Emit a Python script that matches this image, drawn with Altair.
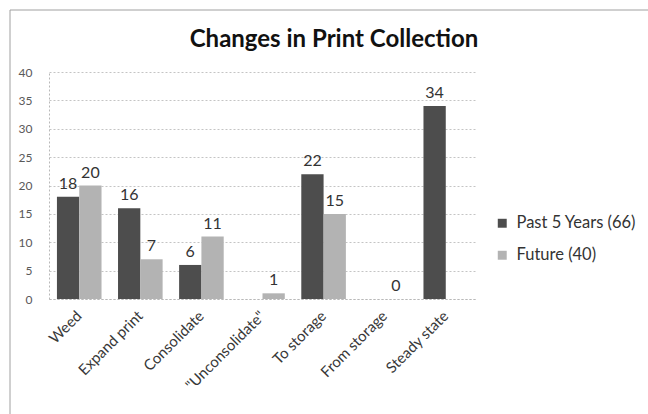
import altair as alt
import pandas as pd

categories = ["Weed", "Expand print", "Consolidate", "\"Unconsolidate\"",
              "To storage", "From storage", "Steady state"]
series_names = ["Past 5 Years (66)", "Future (40)"]
past = [18, 16, 6, None, 22, None, 34]
future = [20, 7, 11, 1, 15, 0, None]
y_ticks = [0, 5, 10, 15, 20, 25, 30, 35, 40]
colors = ["#4d4d4d", "#b3b3b3"]
title_text = "Changes in Print Collection"

rows = []
for c, p, f in zip(categories, past, future):
    if p is not None:
        rows.append({"cat": c, "series": series_names[0], "value": p})
    if f is not None:
        rows.append({"cat": c, "series": series_names[1], "value": f})
df = pd.DataFrame(rows)

FONT = "Lato"

x = alt.X("cat:N", sort=categories, title=None,
          scale=alt.Scale(paddingInner=0.27, paddingOuter=0.13),
          axis=alt.Axis(labelAngle=-45, labelAlign="right", labelBaseline="middle",
                        labelFontSize=15, labelColor="#383838", labelPadding=14,
                        ticks=False, domainColor="#b8b8b8", domainDash=[2, 2],
                        labelFont=FONT, labelOverlap=False))
y = alt.Y("value:Q", title=None,
          scale=alt.Scale(domain=[0, 40], nice=False),
          axis=alt.Axis(values=y_ticks, labelFontSize=12, labelColor="#595959",
                        labelPadding=17, ticks=False, gridColor="#c4c4c4",
                        gridDash=[2, 2], domainColor="#b8b8b8", domainDash=[2, 2],
                        labelFont=FONT, labelOverlap=False))
xoff = alt.XOffset("series:N", sort=series_names)
color = alt.Color("series:N", sort=series_names,
                  scale=alt.Scale(domain=series_names, range=colors),
                  legend=alt.Legend(title=None, orient="none", legendX=445, legendY=143,
                                    symbolType="square", symbolSize=80,
                                    symbolStrokeWidth=0, labelFontSize=16.5,
                                    labelColor="#333333", rowPadding=15,
                                    labelFont=FONT, labelOffset=6))

bars = alt.Chart(df).mark_bar().encode(x=x, y=y, xOffset=xoff, color=color)
labels = alt.Chart(df).mark_text(baseline="bottom", dy=-5, fontSize=16,
                                 color="#333333", font=FONT).encode(
    x=x, y=y, xOffset=xoff, text="value:Q")

frame = alt.Chart(pd.DataFrame({"a": [0]})).mark_rect(
    fill=None, stroke="#a0a0a0", strokeWidth=1).encode(
    x=alt.value(-39), x2=alt.value(640), y=alt.value(-62), y2=alt.value(400))

title = alt.Chart(pd.DataFrame({"t": [title_text]})).mark_text(
    font=FONT, fontSize=24, fontWeight="bold", color="#111111",
    align="center", baseline="alphabetic").encode(
    x=alt.value(285), y=alt.value(-25), text="t:N")

chart = alt.layer(frame, bars, labels, title).properties(
    width=427, height=227,
    padding={"left": 49, "top": 72, "right": 172, "bottom": 115},
    autosize=alt.AutoSizeParams(type="none"),
    background="white",
).configure_view(stroke=None)

chart.save("out.html", embed_options={"renderer": "svg", "actions": False})
